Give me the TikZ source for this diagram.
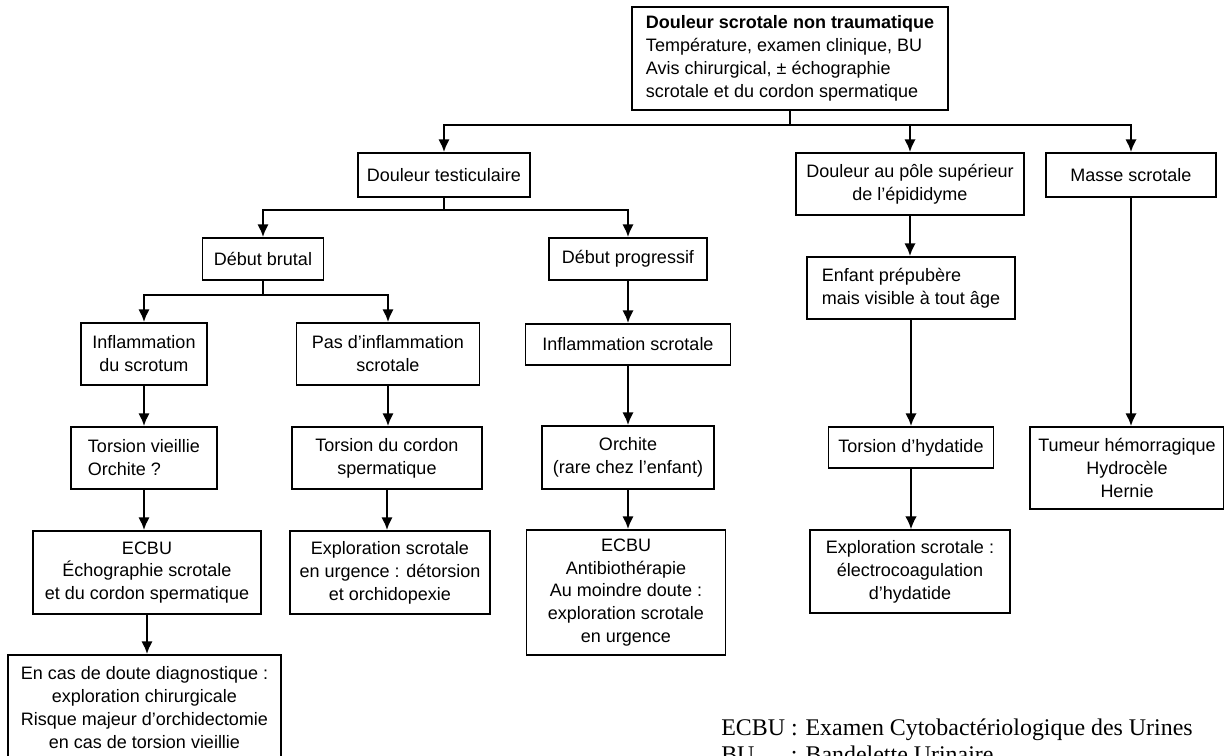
\documentclass[tikz,border=0pt]{standalone}
\usepackage{fontspec}
\setmainfont{Liberation Sans}
\newfontfamily\legendfont{Liberation Serif}
\usetikzlibrary{arrows.meta}

\begin{document}
\begin{tikzpicture}[x=0.025cm, y=-0.025cm,
  box/.style={draw, line width=1.3pt, inner sep=3pt, align=center,
              font=\fontsize{12.8}{16.3}\selectfont},
  arr/.style={-{Latex[length=3.2mm,width=2.9mm]}, line width=1.6pt},
  legend/.style={inner sep=0pt, font=\legendfont\fontsize{17}{19.9}\selectfont}
]
  \useasboundingbox (0,0) rectangle (1224,756);

  \node[box, align=left, minimum width=7.9cm, minimum height=2.575cm] (top) at (790,58.5)
    {\textbf{Douleur scrotale non traumatique}\\Température, examen clinique, BU\\Avis chirurgical, ± échographie\\scrotale et du cordon spermatique};
  \node[box, minimum width=4.3cm,  minimum height=1.1cm]  (dtest)   at (444,175)   {Douleur testiculaire};
  \node[box, minimum width=5.7cm,  minimum height=1.55cm] (dpole)   at (910,184)   {Douleur au pôle supérieur\\de l’épididyme};
  \node[box, minimum width=4.25cm, minimum height=1.1cm]  (masse)   at (1131,175)  {Masse scrotale};
  \node[box, minimum width=3.025cm,minimum height=1.05cm] (dbrut)   at (263,259)   {Début brutal};
  \node[box, minimum width=3.95cm, minimum height=1.05cm] (dprog)   at (628,259)   {Début progressif};
  \node[box, minimum width=3.15cm, minimum height=1.55cm] (inflA)   at (144,354)   {Inflammation\\du scrotum};
  \node[box, minimum width=4.575cm,minimum height=1.55cm] (pasinfl) at (388,354)   {Pas d’inflammation\\scrotale};
  \node[box, minimum width=5.125cm,minimum height=1.025cm](inflsc)  at (628,344.5) {Inflammation scrotale};
  \node[box, align=left, minimum width=3.65cm, minimum height=1.55cm] (torsv) at (144,458) {Torsion vieillie\\Orchite ?};
  \node[box, minimum width=4.75cm, minimum height=1.55cm] (torsc)   at (387,458)   {Torsion du cordon\\spermatique};
  \node[box, minimum width=4.3cm,  minimum height=1.575cm](orch)    at (628,457.5) {Orchite\\(rare chez l’enfant)};
  \node[box, minimum width=5.7cm,  minimum height=2.075cm](ecbuA)   at (147,572.5) {ECBU\\Échographie scrotale\\et du cordon spermatique};
  \node[box, minimum width=5.0cm,  minimum height=2.075cm](explo)   at (390,572.5) {Exploration scrotale\\en urgence : détorsion\\et orchidopexie};
  \node[box, minimum width=4.975cm,minimum height=3.125cm](ecbuB)   at (626,592.5) {ECBU\\Antibiothérapie\\Au moindre doute :\\exploration scrotale\\en urgence};
  \node[box, minimum width=6.825cm,minimum height=2.625cm](doute)   at (144.5,707.5) {En cas de doute diagnostique :\\exploration chirurgicale\\Risque majeur d’orchidectomie\\en cas de torsion vieillie};
  \node[box, align=left, minimum width=5.2cm, minimum height=1.55cm] (enfant) at (911,288) {Enfant prépubère\\mais visible à tout âge};
  \node[box, minimum width=4.125cm,minimum height=1.025cm](torsh)   at (911,447.5) {Torsion d’hydatide};
  \node[box, minimum width=5.0cm,  minimum height=2.075cm](exploh)  at (910,571.5) {Exploration scrotale :\\électrocoagulation\\d’hydatide};
  \node[box, minimum width=4.85cm, minimum height=2.05cm] (tumeur)  at (1127,468)  {Tumeur hémorragique\\Hydrocèle\\Hernie};

  \node[legend, anchor=base west] (abbr) at (721,735)
    {\begin{tabular}[t]{@{}l@{ }l@{}}ECBU & : Examen Cytobactériologique des Urines\\BU & : Bandelette Urinaire\end{tabular}};

  \draw[arr] (top.south) -- ++(0,14) -| (dtest);
  \draw[arr] (top.south) ++(0,14) -| (dpole);
  \draw[arr] (top.south) ++(0,14) -| (masse);
  \draw[arr] (dtest.south) -- ++(0,12) -| (dbrut);
  \draw[arr] (dtest.south) ++(0,12) -| (dprog);
  \draw[arr] (dbrut.south) -- ++(0,14) -| (inflA);
  \draw[arr] (dbrut.south) ++(0,14) -| (pasinfl);
  \draw[arr] (dprog) -- (dprog |- inflsc.north);
  \draw[arr] (inflA) -- (inflA |- torsv.north);
  \draw[arr] (pasinfl) -- (pasinfl |- torsc.north);
  \draw[arr] (inflsc) -- (inflsc |- orch.north);
  \draw[arr] (torsv) -- (torsv |- ecbuA.north);
  \draw[arr] (torsc) -- (torsc |- explo.north);
  \draw[arr] (orch) -- (orch |- ecbuB.north);
  \draw[arr] (ecbuA) -- (ecbuA |- doute.north);
  \draw[arr] (dpole) -- (dpole |- enfant.north);
  \draw[arr] (enfant) -- (enfant |- torsh.north);
  \draw[arr, line width=0.9pt] (torsh) -- (torsh |- exploh.north);
  \draw[arr] (masse) -- (masse |- tumeur.north);
\end{tikzpicture}
\end{document}
